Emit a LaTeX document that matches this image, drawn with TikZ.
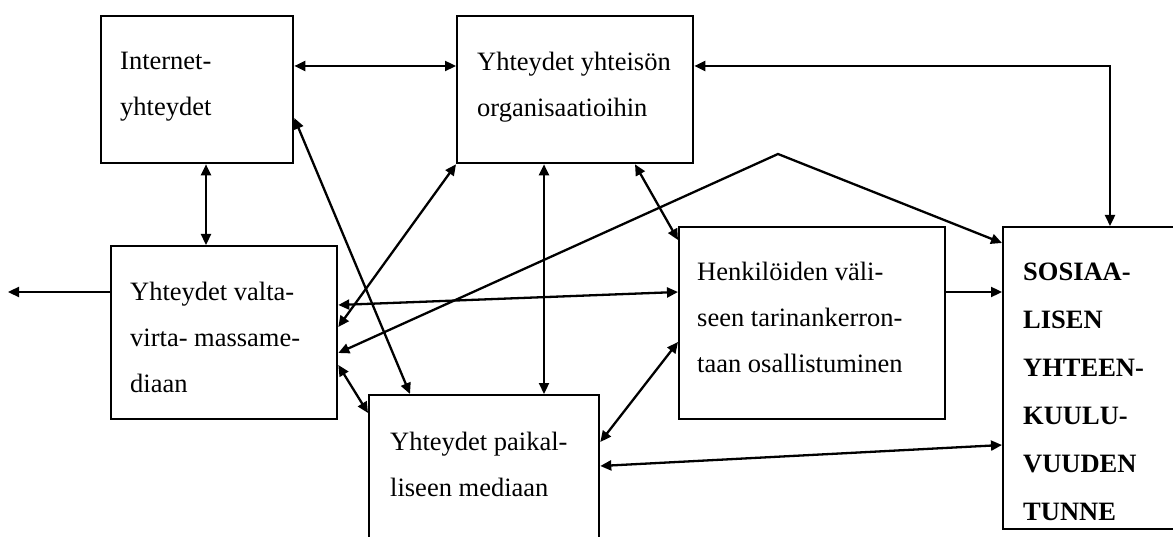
\documentclass[tikz,border=0pt]{standalone}
\usepackage{fontspec}
\setmainfont{Liberation Serif}
\usetikzlibrary{arrows.meta,calc}
\begin{document}
\begin{tikzpicture}[x=1pt,y=-1pt,
  box/.style={draw=black,line width=2.3pt,minimum width=#1,inner sep=0pt,anchor=north west},
  txt/.style={anchor=north west,inner sep=0pt,align=left,font=\fontsize{26.5}{46}\selectfont},
  btxt/.style={anchor=north west,inner sep=0pt,align=left,font=\fontsize{26.5}{48}\selectfont\bfseries},
  conn/.style={line width=2.3pt,{Triangle[length=11pt,width=10pt]}-{Triangle[length=11pt,width=10pt]}},
  one/.style={line width=2.3pt,-{Triangle[length=11pt,width=10pt]}}]
\clip (0,0) rectangle (1173,537);
% boxes
\node[box=192pt,minimum height=147pt] (inet) at (100,15) {};
\node[box=236pt,minimum height=147pt] (yht) at (456,15) {};
\node[box=226pt,minimum height=173pt] (valta) at (110,245) {};
\node[box=266pt,minimum height=192pt] (henk) at (678,226) {};
\node[box=230pt,minimum height=170pt] (paik) at (368,394) {};
\node[box=260pt,minimum height=302pt] (sos) at (1002,226) {};
% texts
\node[txt] (tinet) at (120,52) {Internet-\\yhteydet};
\node[txt] (tyht) at (477,52) {Yhteydet yhteisön\\organisaatioihin};
\node[txt] (tvalta) at (130,282) {Yhteydet valta-\\virta- massame-\\diaan};
\node[txt] (thenk) at (697,262) {Henkilöiden väli-\\seen tarinankerron-\\taan osallistuminen};
\node[txt] (tpaik) at (390,432) {Yhteydet paikal-\\liseen mediaan};
\node[btxt] (tsos) at (1023,263) {SOSIAA-\\LISEN\\YHTEEN-\\KUULU-\\VUUDEN\\TUNNE};
% helper coordinates
\coordinate (peak) at (778,154);
\coordinate (leftend) at (8,292);
% connectors
\draw[conn] ($(inet.north east)+(0,51)$) -- ($(yht.north west)+(0,51)$);
\draw[conn] ($(inet.south west)+(106,0)$) -- ($(valta.north west)+(96,0)$);
\draw[conn] ($(paik.north west)+(42,0)$) -- ($(inet.north east)+(0,103)$);
\draw[conn] ($(valta.north east)+(0,82)$) -- (yht.south west);
\draw[conn] ($(yht.south west)+(88,0)$) -- ($(paik.north west)+(176,0)$);
\draw[conn] ($(yht.south west)+(179,0)$) -- ($(henk.north west)+(0,14)$);
\draw[conn] ($(valta.north east)+(0,60)$) -- ($(henk.north west)+(0,66)$);
\draw[conn] ($(valta.north east)+(0,108)$) -- (peak) -- ($(sos.north west)+(0,17)$);
\draw[conn] ($(valta.north east)+(0,120)$) -- ($(paik.north west)+(0,19)$);
\draw[conn] ($(henk.north west)+(0,116)$) -- ($(paik.north east)+(0,48)$);
\draw[one] ($(henk.north east)+(0,66)$) -- ($(sos.north west)+(0,66)$);
\draw[conn] ($(sos.north west)+(0,219)$) -- ($(paik.north east)+(0,72)$);
\draw[conn] ($(yht.north east)+(0,51)$) -| ($(sos.north west)+(108,0)$);
\draw[one] ($(valta.north west)+(0,47)$) -- (leftend);
\end{tikzpicture}
\end{document}
